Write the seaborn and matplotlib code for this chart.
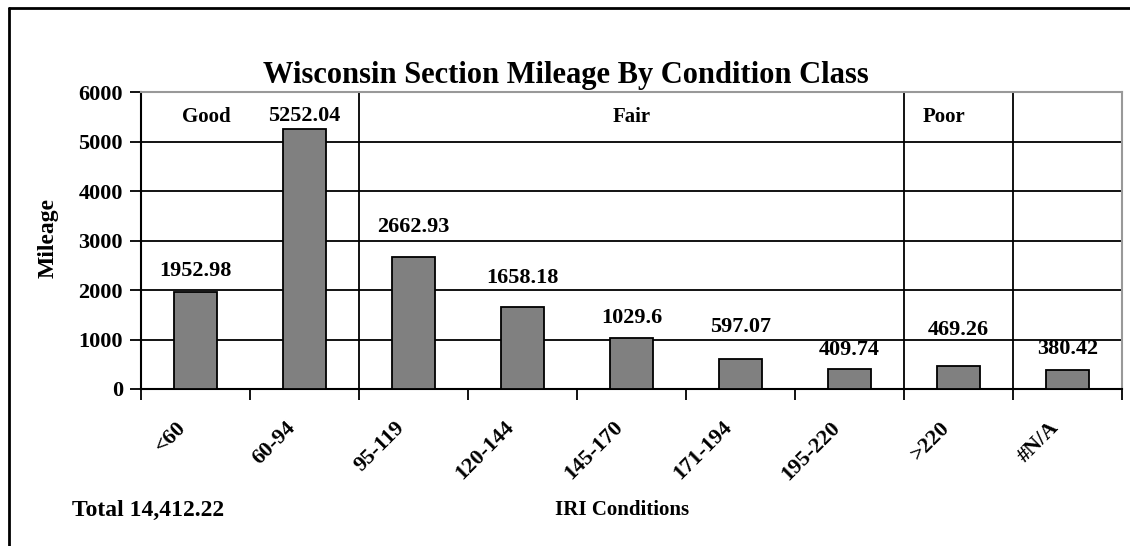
import matplotlib
matplotlib.use("Agg")
import matplotlib.pyplot as plt
from matplotlib.lines import Line2D
from matplotlib.transforms import ScaledTranslation
import seaborn as sns
import pandas as pd

# data
categories = ["<60", "60-94", "95-119", "120-144", "145-170", "171-194", "195-220", ">220", "#N/A"]
mileage = [1952.98, 5252.04, 2662.93, 1658.18, 1029.6, 597.07, 409.74, 469.26, 380.42]
value_labels = ["1952.98", "5252.04", "2662.93", "1658.18", "1029.6", "597.07", "409.74", "469.26", "380.42"]
class_names = ["Good", "Fair", "Poor"]
class_x = [0.1, 4.0, 6.87]
class_breaks = [1.5, 6.5, 7.5]
y_ticks = [0, 1000, 2000, 3000, 4000, 5000, 6000]
total_text = "Total 14,412.22"

# gap (px) between each bar top and its value label, as placed in the original
label_gap_px = [11, 3, 20, 19, 10, 22, 9, 26, 11]

sns.set_style("white")
plt.rcParams["font.family"] = ["Liberation Serif", "DejaVu Serif"]
plt.rcParams["font.weight"] = "bold"
plt.rcParams["text.color"] = "black"
plt.rcParams["xtick.color"] = "black"
plt.rcParams["ytick.color"] = "black"
plt.rcParams["axes.labelcolor"] = "black"

df = pd.DataFrame({"cond": categories, "miles": mileage})

fig = plt.figure(figsize=(11.3, 5.46), dpi=100)
ax = fig.add_axes([141 / 1130, 1 - 389 / 546, (1122 - 141) / 1130, (389 - 92) / 546])

sns.barplot(data=df, x="cond", y="miles", ax=ax, color="#808080", saturation=1,
            edgecolor="black", linewidth=1.3, width=0.4, zorder=3)

ax.set_xlim(-0.5, len(categories) - 0.5)
ax.set_ylim(0, 6000)
ax.set_yticks(y_ticks)
ax.set_yticklabels([str(t) for t in y_ticks], fontsize=16, fontweight="bold")
for t in y_ticks[1:-1]:
    ax.axhline(t, color="black", lw=1.3, zorder=1)

# category boundary ticks below axis, labels at centers
ax.set_xticks(range(len(categories)))
ax.set_xticklabels(categories, rotation=45, ha="right", va="top",
                   rotation_mode="anchor", fontsize=16, fontweight="bold")
ax.set_xticks([i - 0.5 for i in range(len(categories) + 1)], minor=True)
ax.tick_params(axis="x", which="major", length=0, pad=14, labelcolor="black")
ax.tick_params(axis="x", which="minor", length=8, width=1.3, color="black", direction="out", bottom=True)
ax.tick_params(axis="y", length=8, width=1.3, color="black", direction="out", left=True, pad=5,
               labelcolor="black")
shift = ScaledTranslation(-19 / 100, -9 / 100, fig.dpi_scale_trans)
for lab in ax.get_xticklabels():
    lab.set_transform(lab.get_transform() + shift)

for b in class_breaks:
    ax.axvline(b, color="black", lw=1.3, zorder=1)

for name, xc in zip(class_names, class_x):
    ax.text(xc, 5500, name, ha="center", va="center", fontsize=15, fontweight="bold", zorder=5)

for i, (v, lab, gap) in enumerate(zip(mileage, value_labels, label_gap_px)):
    ax.annotate(lab, (i, v), xytext=(0, gap * 0.72), textcoords="offset points",
                ha="center", va="bottom", fontsize=16, fontweight="bold", zorder=5)

for side in ["left", "bottom"]:
    ax.spines[side].set_color("black")
    ax.spines[side].set_linewidth(1.5)
for side in ["top", "right"]:
    ax.spines[side].set_color("#999999")
    ax.spines[side].set_linewidth(1.5)

ax.set_xlabel("")
ax.set_ylabel("")
fig.text(48 / 1130, 1 - 238 / 546, "Mileage", rotation=90, ha="center", va="center",
         fontsize=17, fontweight="bold")

fig.text(566 / 1130, 1 - 75 / 546, "Wisconsin Section Mileage By Condition Class",
         ha="center", va="center", fontsize=22, fontweight="bold")
fig.text(622 / 1130, 1 - 510 / 546, "IRI Conditions", ha="center", va="center",
         fontsize=15, fontweight="bold")
fig.text(72 / 1130, 1 - 510 / 546, total_text, ha="left", va="center",
         fontsize=17, fontweight="bold")

# outer frame (left and top edges)
fig.add_artist(Line2D([9 / 1130, 9 / 1130], [0, 1 - 8 / 546], color="black", lw=2, transform=fig.transFigure))
fig.add_artist(Line2D([9 / 1130, 1], [1 - 8 / 546, 1 - 8 / 546], color="black", lw=2, transform=fig.transFigure))

fig.savefig("out.png", dpi=100)
